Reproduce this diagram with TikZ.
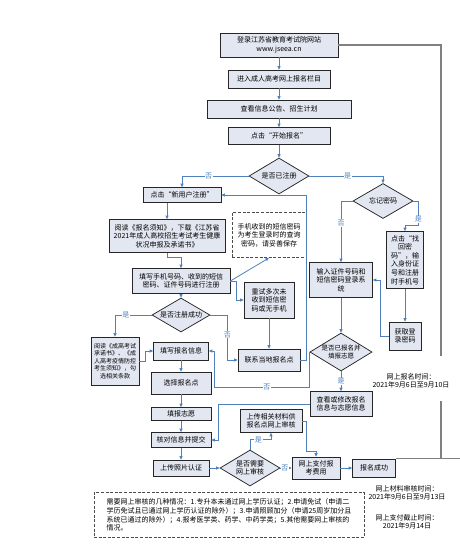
\documentclass[tikz,border=0pt]{standalone}
\usepackage{fontspec}
\setmainfont{Noto Sans CJK SC}
\usetikzlibrary{arrows.meta,calc,positioning,shapes.geometric}
\definecolor{boxfill}{HTML}{E3E7F1}
\definecolor{flow}{HTML}{4F81BD}
\definecolor{railgrey}{HTML}{808080}
\newcommand{\flowfont}{\fontsize{7}{8.6}\selectfont}
\newcommand{\smallflowfont}{\fontsize{6}{7.6}\selectfont}

\begin{document}
\begin{tikzpicture}[
  x=1pt,y=-1pt,
  box/.style={draw=black!85,fill=boxfill,line width=0.75pt,inner sep=1pt,align=center,font=\flowfont},
  decision/.style={diamond,draw=black!85,fill=boxfill,line width=0.75pt,inner sep=0pt,aspect=1.7,align=center,font=\flowfont},
  note/.style={draw=black!70,dash pattern=on 3pt off 1.6pt,line width=0.8pt,inner sep=2pt,font=\flowfont},
  arrow/.style={-{Triangle[length=3.4pt,width=3pt]},flow,line width=0.8pt},
  lbl/.style={fill=white,inner sep=0.6pt,font=\flowfont},
  rail/.style={railgrey,line width=1.6pt},
  side/.style={align=center,inner sep=1pt,font=\flowfont}
]
\useasboundingbox (0,0) rectangle (460,551);

\node[box,minimum width=118pt,minimum height=24pt] (login) at (279,45) {登录江苏省教育考试院网站\\www.jseea.cn};
\node[box,minimum width=102pt,minimum height=18pt] (enter) at (279,79) {进入成人高考网上报名栏目};
\node[box,minimum width=144pt,minimum height=18pt] (notice) at (279,109) {查看信息公告、招生计划};
\node[box,minimum width=102pt,minimum height=17pt] (start) at (279,136) {点击“开始报名”};
\node[decision,minimum width=60pt,minimum height=36pt] (registered) at (279,176) {是否已注册};

\node[box,minimum width=78pt,minimum height=15pt] (newuser) at (182,195) {点击“新用户注册”};
\node[box,minimum width=116pt,minimum height=33pt] (readfirst) at (167,236) {阅读《报名须知》，下载《江苏省\\2021年成人高校招生考试考生健康\\状况申报及承诺书》};
\node[box,minimum width=98pt,minimum height=25pt] (fillphone) at (181,281) {填写手机号码、收到的短信\\密码、证件号码进行注册};
\node[note,align=center,minimum width=74pt,minimum height=45pt] (smsnote) at (269,235) {手机收到的短信密码\\为考生登录时的查询\\密码，请妥善保存};
\node[box,minimum width=50pt,minimum height=36pt] (retry) at (269,300) {重试多次未\\收到短信密\\码或无手机};
\node[decision,minimum width=58pt,minimum height=34pt] (regok) at (181,315) {是否注册成功};
\node[box,minimum width=62pt,minimum height=22pt] (contact) at (269,360) {联系当地报名点};
\node[box,font=\smallflowfont,minimum width=48pt,minimum height=48pt] (pledge) at (115,361) {阅读《成高考试\\承诺书》、《成\\人高考疫情防控\\考生须知》，勾\\选相关条款};
\node[box,minimum width=55pt,minimum height=18pt] (fillinfo) at (181,351) {填写报名信息};
\node[box,minimum width=60pt,minimum height=22pt] (choose) at (181,383) {选择报名点};
\node[box,minimum width=60pt,minimum height=13pt] (wish) at (181,414) {填报志愿};
\node[box,minimum width=60pt,minimum height=15pt] (check) at (181,440) {核对信息并提交};
\node[box,minimum width=56pt,minimum height=16pt] (photo) at (181,468) {上传照片认证};
\node[decision,minimum width=60pt,minimum height=36pt] (audit) at (250,468) {是否需要\\网上审核};
\node[box,minimum width=62pt,minimum height=23pt] (upload) at (271,421) {上传相关材料供\\报名点网上审核};
\node[box,minimum width=48pt,minimum height=22pt] (pay) at (316,468) {网上支付报\\考费用};
\node[box,minimum width=43pt,minimum height=18pt] (done) at (374,468) {报名成功};

\node[decision,minimum width=60pt,minimum height=35pt] (forgot) at (383,201) {忘记密码};
\node[box,minimum width=37pt,minimum height=57pt] (retrieve) at (405,260) {点击“找\\回密\\码”，输\\入身份证\\号和注册\\时手机号};
\node[box,minimum width=32pt,minimum height=28pt] (getpwd) at (405,336) {获取登\\录密码};
\node[box,minimum width=63pt,minimum height=35pt] (loginsys) at (341,280) {输入证件号码和\\短信密码登录系\\统};
\node[decision,font=\fontsize{6.5}{7.6}\selectfont,minimum width=60pt,minimum height=38pt] (applied) at (341,352) {是否已报名并\\填报志愿};
\node[box,minimum width=62pt,minimum height=25pt] (review) at (341,404) {查看或修改报名\\信息与志愿信息};

\node[note,align=left,minimum width=270pt,minimum height=45pt] (auditnote) at (229,515) {需要网上审核的几种情况：1.专升本未通过网上学历认证；2.申请免试（申请二\\学历免试且已通过网上学历认证的除外）；3.申请照顾加分（申请25周岁加分且\\系统已通过的除外）；4.报考医学类、药学、中药学类；5.其他需要网上审核的\\情况。};
\node[side] (signuptime) at (411,381) {网上报名时间：\\2021年9月6日至9月10日};
\node[side] (audittime) at (407,493) {网上材料审核时间：\\2021年9月6日至9月13日};
\node[side] (paytime) at (407,522) {网上支付截止时间：\\2021年9月14日};

\coordinate (railtop) at (441,356);
\coordinate (railbot) at (441,401);
\draw[rail] (login.east) -| (railtop);
\draw[rail] (railbot) -- (railbot |- done.north east) (done.north east) -- ++(64,0);

\draw[arrow] (login) -- (enter);
\draw[arrow] (enter) -- (notice);
\draw[arrow] (notice) -- (start);
\draw[arrow] (start) -- (registered);
\draw[arrow] (registered.west) -| node[lbl,pos=0.3]{否} (newuser.north);
\draw[arrow] (registered.east) -| node[lbl,pos=0.26]{是} (forgot.north);
\draw[arrow] (newuser.south -| readfirst.north) -- (readfirst.north);
\draw[arrow] (readfirst.south) -- ++(0,5) -| (fillphone.north);
\draw[arrow] (fillphone) -- (regok);
\draw[arrow] (fillphone.east) -- (smsnote.south);
\draw[arrow] (fillphone.east) -- ++(6,0) |- (retry.west);
\draw[arrow] (retry) -- (contact);
\draw[arrow] (regok.east) -- ++(17,0) |- node[lbl,pos=0.22]{否} (contact.west);
\draw[arrow] (regok.west) -| node[lbl,pos=0.35]{是} (pledge.north);
\draw[arrow] (pledge.east) -- ++(6,0) |- (fillinfo.west);
\draw[arrow] (contact.east) -- ++(6,0) |- (newuser.east);
\draw[arrow] (fillinfo) -- (choose);
\draw[arrow] (choose) -- (wish);
\draw[arrow] (wish) -- (check);
\draw[arrow] (check) -- (photo);
\draw[arrow] (photo) -- (audit);
\draw[arrow] (audit) -- node[lbl,pos=0.4]{否} (pay);
\draw[arrow] (pay) -- (done);
\draw[arrow] (audit.north) |- node[lbl,pos=0.7]{是} ++(21,-10) -- (upload.south);
\draw[arrow] (upload.east) -- ++(4,0) |- ($(pay.north)+(0,-5)$) -- (pay.north);
\draw[arrow] (forgot.west) -| node[lbl,pos=0.68]{否} (loginsys.north);
\draw[arrow] (forgot.east) -- ++(5,0) |- node[lbl,pos=0.38]{是} ($(retrieve.north)+(0,-6)$) -- (retrieve.north);
\draw[arrow] (retrieve) -- (getpwd);
\draw[arrow] (getpwd.west) -- ++(-8,0) |- (loginsys.east);
\draw[arrow] (loginsys) -- (applied);
\draw[arrow] (applied) -- node[lbl]{是} (review);
\draw[arrow] (applied.west) -- ++(0,35) -- node[lbl,pos=0.45]{否} ++(-95,0) |- (fillinfo.east);
\draw[arrow] (review.west) -- ++(-91,0) |- (check.east);
\end{tikzpicture}
\end{document}
